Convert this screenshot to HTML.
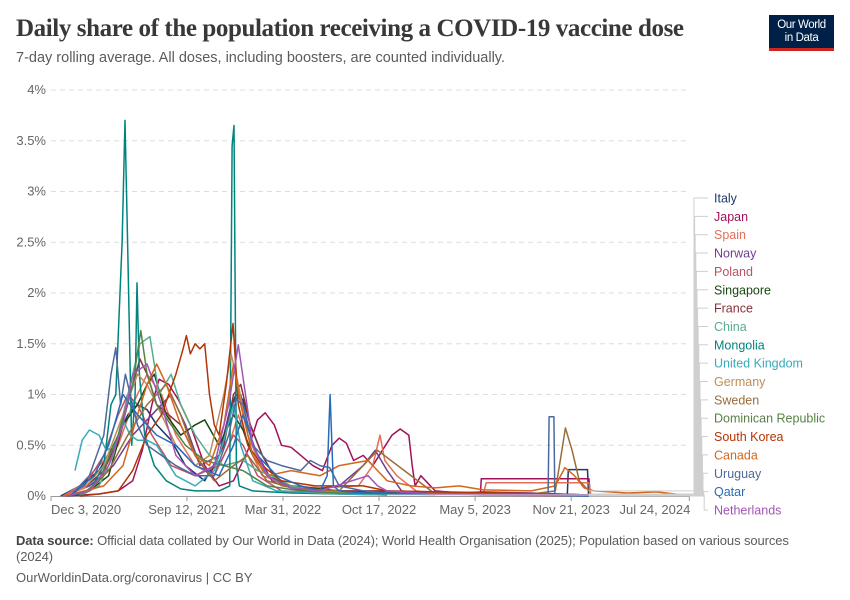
<!DOCTYPE html>
<html><head><meta charset="utf-8">
<style>
body{margin:0;background:#fff;width:850px;height:600px;overflow:hidden;font-family:"Liberation Sans",sans-serif;}
#wrap{position:relative;width:850px;height:600px;}
.t{position:absolute;white-space:nowrap;}
</style></head>
<body>
<div id="wrap">
<div class="t" style="left:16px;top:15px;font-family:'Liberation Serif',serif;font-size:25px;font-weight:bold;color:#383838;letter-spacing:-0.4px;">Daily share of the population receiving a COVID-19 vaccine dose</div>
<div class="t" style="left:16px;top:50px;font-size:14.5px;color:#5b5b5b;">7-day rolling average. All doses, including boosters, are counted individually.</div>
<div style="position:absolute;left:769px;top:15px;width:65px;height:36px;background:#002147;border-bottom:3px solid #ce261e;box-sizing:border-box;color:#fff;font-size:11.5px;line-height:13px;text-align:center;padding-top:4px;letter-spacing:-0.4px;">Our World<br>in Data</div>
<svg id="chart" width="850" height="600" style="position:absolute;left:0;top:0;"></svg>
<div class="t" style="left:16px;top:533px;font-size:13px;color:#5b5b5b;line-height:16px;letter-spacing:-0.1px;"><b style="color:#444">Data source:</b> Official data collated by Our World in Data (2024); World Health Organisation (2025); Population based on various sources<br>(2024)</div>
<div class="t" style="left:16px;top:570px;font-size:13px;color:#5b5b5b;">OurWorldinData.org/coronavirus | CC BY</div>
</div>
<script>
const yTicks=[0,0.5,1,1.5,2,2.5,3,3.5,4];
const yTickLabels=["0%","0.5%","1%","1.5%","2%","2.5%","3%","3.5%","4%"];
const xTickDays=[0,283,483,683,883,1083,1329];
const xTickLabels=["Dec 3, 2020","Sep 12, 2021","Mar 31, 2022","Oct 17, 2022","May 5, 2023","Nov 21, 2023","Jul 24, 2024"];
const seriesNames=["Italy","Japan","Spain","Norway","Poland","Singapore","France","China","Mongolia","United Kingdom","Germany","Sweden","Dominican Republic","South Korea","Canada","Uruguay","Qatar","Netherlands"];
const seriesColors=["#1a3a6e","#a2105a","#e56e5a","#6d3e91","#c15065","#18470f","#883039","#58ac8c","#00847e","#38aaba","#bc8e5a","#996d39","#578145","#b13507","#d3661c","#4c6a9c","#286bbb","#a454b5"];
const seriesDays=[
[20,60,100,130,160,180,200,220,250,280,320,350,370,385,400,415,440,470,520,600,700,800,900,1000,1075,1077,1117,1119],
[30,100,140,170,190,210,225,245,265,290,320,350,380,410,430,446,465,480,500,520,545,565,585,600,615,630,650,670,690,710,727,745,752,758,770,800,850,894,896,1120,1123],
[25,60,100,140,170,200,230,260,300,340,370,390,410,440,500,560,640,670,685,695,720,760,800,900,906,1120,1124],
[25,80,130,170,210,250,280,310,350,375,395,420,460,520,600,650,675,700,730,800,900,1000,1120],
[25,70,110,140,160,180,210,250,300,350,380,400,430,480,560,700,900,1120],
[30,80,120,150,180,200,215,240,270,300,320,350,380,400,420,450,500,600,800,1120],
[25,70,110,140,165,185,200,220,245,270,300,330,360,380,395,415,440,470,520,600,700,800,1000,1120],
[60,100,130,150,170,185,206,225,250,270,300,330,360,400,430,460,500,560,650,800],
[40,80,110,125,135,148,154,160,168,175,179,184,195,215,240,270,300,350,372,377,381,386,392,420,500,600,700],
[50,65,80,100,115,135,150,165,180,200,220,240,260,280,300,340,360,380,395,420,470,600,700],
[25,70,110,150,180,200,230,260,300,330,360,375,390,410,440,480,550,650,1000,1120],
[30,80,120,160,200,240,270,300,340,380,410,450,500,600,680,800,1000,1050,1062,1071,1085,1100,1120],
[60,100,140,170,187,200,220,250,280,320,360,400,450,520,600,800,1120],
[60,100,140,170,200,230,260,275,282,290,300,310,320,330,340,350,365,379,390,410,440,480,550,650,700,1050,1120],
[25,70,110,150,180,200,220,240,270,300,330,360,380,395,420,450,500,560,600,660,700,750,800,850,900,1000,1050,1070,1090,1110,1130,1200,1260,1300,1331],
[40,80,110,125,135,145,155,165,180,200,230,260,300,340,370,385,400,420,450,480,520,540,560,580,600,650,700,800,1035,1037,1047,1049,1120],
[40,90,120,150,180,220,260,300,350,380,400,430,470,520,560,575,581,588,600,650,750,1000,1120],
[30,80,120,150,170,200,230,260,300,340,370,390,405,420,450,500,560,660,680,700,800,1120]
];
const seriesVals=[
[0,0.1,0.25,0.5,0.8,0.9,0.85,0.7,0.55,0.3,0.15,0.4,0.8,1.0,0.95,0.7,0.4,0.15,0.06,0.04,0.03,0.02,0.01,0.01,0.01,0.26,0.26,0.02],
[0,0.02,0.05,0.15,0.45,0.9,1.15,1.1,0.95,0.7,0.3,0.1,0.15,0.45,0.75,0.82,0.7,0.5,0.48,0.4,0.3,0.25,0.5,0.57,0.52,0.35,0.4,0.3,0.45,0.6,0.66,0.6,0.3,0.1,0.2,0.05,0.03,0.02,0.17,0.17,0.02],
[0,0.1,0.3,0.5,0.9,1.2,1.0,0.6,0.3,0.2,0.5,0.8,0.5,0.2,0.1,0.08,0.1,0.3,0.6,0.35,0.2,0.05,0.02,0.02,0.13,0.13,0.01],
[0,0.1,0.3,0.6,0.8,1.0,0.7,0.3,0.4,0.9,1.0,0.5,0.15,0.05,0.1,0.3,0.45,0.25,0.05,0.02,0.04,0.03,0.01],
[0,0.1,0.4,0.8,1.0,0.9,0.6,0.3,0.2,0.3,0.6,0.5,0.2,0.05,0.03,0.02,0.01,0],
[0,0.05,0.2,0.7,0.9,1.1,1.2,0.8,0.6,0.7,0.75,0.5,0.8,0.65,0.4,0.2,0.1,0.05,0.02,0.01],
[0,0.08,0.25,0.55,1.0,1.35,1.2,0.9,0.8,0.7,0.4,0.2,0.5,1.0,1.1,0.7,0.4,0.15,0.06,0.05,0.05,0.03,0.02,0.01],
[0,0.1,0.4,0.8,1.2,1.5,1.57,1.0,1.2,0.9,0.6,0.4,0.3,0.35,0.25,0.2,0.1,0.05,0.02,0.01],
[0,0.05,0.3,0.9,1.0,2.5,3.7,2.4,0.5,1.0,2.1,1.2,0.6,0.3,0.15,0.07,0.05,0.05,0.1,3.45,3.65,0.3,0.1,0.05,0.03,0.02,0.01],
[0.25,0.55,0.65,0.6,0.45,0.5,0.75,0.6,0.55,0.55,0.5,0.35,0.2,0.15,0.1,0.25,0.55,0.9,0.5,0.15,0.05,0.02,0.01],
[0,0.08,0.3,0.8,1.2,1.1,0.8,0.5,0.3,0.4,1.0,1.4,1.1,0.6,0.25,0.1,0.05,0.03,0.02,0.01],
[0,0.05,0.25,0.6,0.9,1.1,0.8,0.4,0.15,0.3,0.4,0.15,0.08,0.05,0.45,0.02,0.02,0.05,0.4,0.67,0.45,0.15,0.05],
[0,0.15,0.6,1.1,1.63,1.2,0.9,0.7,0.5,0.35,0.3,0.25,0.1,0.05,0.03,0.02,0.01],
[0,0.02,0.05,0.25,0.6,0.8,1.2,1.45,1.58,1.4,1.5,1.45,1.5,1.0,0.7,0.6,1.1,1.7,0.9,0.5,0.3,0.15,0.1,0.1,0.05,0.02,0.01],
[0,0.05,0.1,0.3,0.8,1.1,1.3,1.1,0.7,0.4,0.3,0.7,1.3,0.9,0.4,0.2,0.25,0.2,0.3,0.35,0.15,0.1,0.08,0.1,0.06,0.05,0.1,0.28,0.2,0.08,0.05,0.03,0.04,0.02,0.01],
[0,0.2,0.6,1.2,1.46,0.9,1.2,1.0,0.7,0.5,0.4,0.3,0.2,0.2,0.6,0.95,0.9,0.5,0.35,0.3,0.25,0.35,0.3,0.28,0.1,0.05,0.03,0.02,0.02,0.78,0.78,0.02,0.01],
[0,0.2,0.5,1.0,0.8,0.6,0.5,0.3,0.2,0.5,0.8,0.4,0.2,0.1,0.05,0.2,1.0,0.1,0.05,0.03,0.02,0.01,0],
[0,0.05,0.3,0.7,1.2,1.3,0.9,0.4,0.2,0.3,0.9,1.49,1.0,0.5,0.2,0.08,0.05,0.2,0.1,0.05,0.02,0.01]
];
const NS="http://www.w3.org/2000/svg";
const svg=document.getElementById('chart');
function xS(d){return 51+d*0.4803;}
function yS(v){return 496-v*101.5;}
function mk(tag,attrs,parent){const e=document.createElementNS(NS,tag);for(const k in attrs)e.setAttribute(k,attrs[k]);(parent||svg).appendChild(e);return e;}
yTicks.forEach((v,i)=>{
  if(v>0){const g=mk('line',{x1:51,x2:690,y1:yS(v),y2:yS(v),stroke:'#dddddd','stroke-dasharray':'5,4'});
  
  }
  const t=mk('text',{x:46,y:yS(v)+4,'text-anchor':'end','font-size':13,fill:'#666','font-family':'Liberation Sans, sans-serif'});
  t.textContent=yTickLabels[i];
  
  
});
const ax=mk('line',{x1:51,x2:690,y1:496.5,y2:496.5,stroke:'#999'});


xTickDays.forEach((d,i)=>{
  const x=xS(d);
  const tk=mk('line',{x1:x,x2:x,y1:496,y2:501,stroke:'#999'});
  
  
  const anchor=i==0?'start':(i==xTickDays.length-1?'end':'middle');
  const t=mk('text',{x:i==0?x:(i==xTickDays.length-1?x+1:x),y:514,'text-anchor':anchor,'font-size':13,fill:'#666','font-family':'Liberation Sans, sans-serif'});
  t.textContent=xTickLabels[i];
  
  
});
seriesNames.forEach((n,i)=>{
  const d=seriesDays[i].map((dd,j)=>(j?'L':'M')+xS(dd).toFixed(1)+','+yS(seriesVals[i][j]).toFixed(1)).join('');
  const p=mk('path',{d:d,fill:'none',stroke:seriesColors[i],'stroke-width':1.5,'stroke-linejoin':'round'});
  
  
});
seriesNames.forEach((n,i)=>{
  const ly=198+i*18.35;
  const lastD=seriesDays[i][seriesDays[i].length-1];
  const ey=yS(seriesVals[i][seriesVals[i].length-1]);
  const vx=694+i*0.6;
  const c=mk('path',{d:'M'+xS(lastD).toFixed(1)+','+ey.toFixed(1)+'H'+vx+'V'+ly+'H708',fill:'none',stroke:'#cfcfcf','stroke-width':1});
  
  
  const t=mk('text',{x:714,y:ly+4.5,'font-size':12.5,fill:seriesColors[i],'font-family':'Liberation Sans, sans-serif'});
  t.textContent=n;
  
  
});
</script>
</body></html>
